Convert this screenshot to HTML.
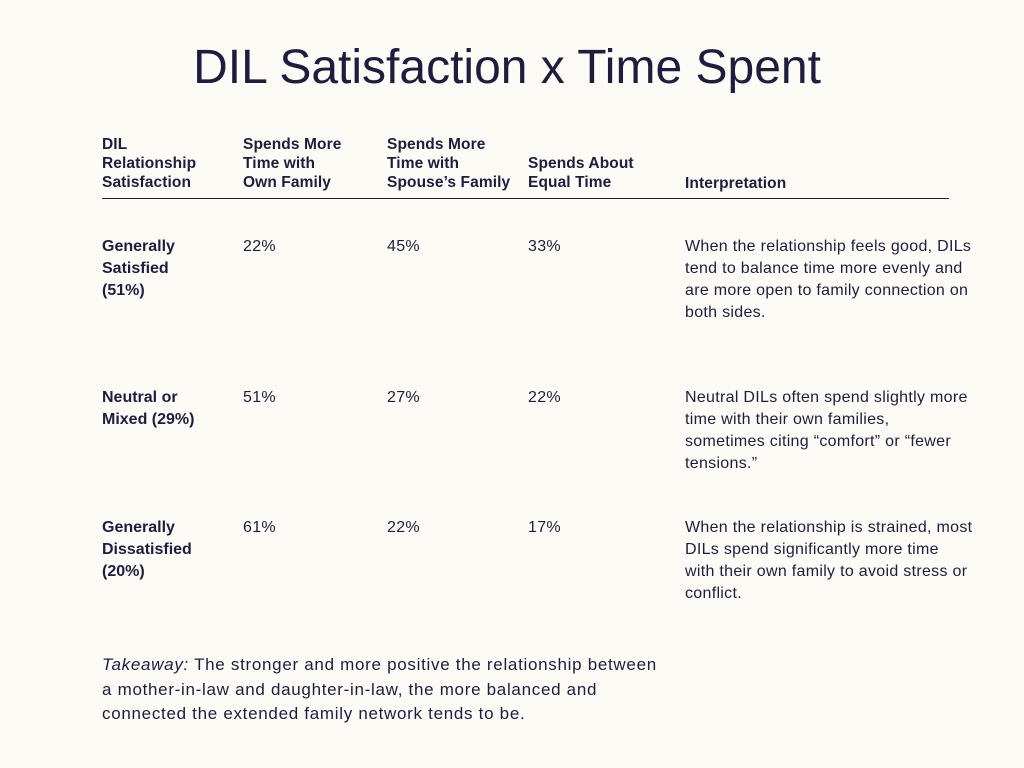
<!DOCTYPE html>
<html><head><meta charset="utf-8"><style>
html,body{margin:0;padding:0;}
body{width:1024px;height:768px;background:#fcfbf5;position:relative;overflow:hidden;font-family:"Liberation Sans",sans-serif;color:#1f1d3d;}
.a{position:absolute;}
h1{position:absolute;left:0;width:1014px;top:38px;margin:0;text-align:center;font-weight:normal;font-size:48px;line-height:60px;color:#1f1d3d;}
.h{font-weight:bold;font-size:15.5px;line-height:19px;letter-spacing:0.1px;}
.c{font-size:16px;line-height:22px;letter-spacing:0.3px;}
.b{font-weight:bold;}
.rule{position:absolute;left:102px;top:198px;width:847px;height:1px;background:#1f1d3d;}
</style></head><body>
<h1>DIL Satisfaction x Time Spent</h1>
<div class="a h" style="left:102px;top:135px;width:130px">DIL<br>Relationship<br>Satisfaction</div>
<div class="a h" style="left:243px;top:135px;width:140px">Spends More<br>Time with<br>Own Family</div>
<div class="a h" style="left:387px;top:135px;width:140px">Spends More<br>Time with<br>Spouse’s Family</div>
<div class="a h" style="left:528px;top:154px;width:140px">Spends About<br>Equal Time</div>
<div class="a h" style="left:685px;top:174px;width:200px">Interpretation</div>
<div class="rule"></div>

<div class="a c b" style="left:102px;top:236px;width:130px;letter-spacing:0">Generally<br>Satisfied<br>(51%)</div>
<div class="a c" style="left:243px;top:236px">22%</div>
<div class="a c" style="left:387px;top:236px">45%</div>
<div class="a c" style="left:528px;top:236px">33%</div>
<div class="a c" style="left:685px;top:236px;width:330px">When the relationship feels good, DILs<br>tend to balance time more evenly and<br>are more open to family connection on<br>both sides.</div>

<div class="a c b" style="left:102px;top:387px;width:130px;letter-spacing:0">Neutral or<br>Mixed (29%)</div>
<div class="a c" style="left:243px;top:387px">51%</div>
<div class="a c" style="left:387px;top:387px">27%</div>
<div class="a c" style="left:528px;top:387px">22%</div>
<div class="a c" style="left:685px;top:387px;width:330px">Neutral DILs often spend slightly more<br>time with their own families,<br>sometimes citing “comfort” or “fewer<br>tensions.”</div>

<div class="a c b" style="left:102px;top:517px;width:130px;letter-spacing:0">Generally<br>Dissatisfied<br>(20%)</div>
<div class="a c" style="left:243px;top:517px">61%</div>
<div class="a c" style="left:387px;top:517px">22%</div>
<div class="a c" style="left:528px;top:517px">17%</div>
<div class="a c" style="left:685px;top:517px;width:330px">When the relationship is strained, most<br>DILs spend significantly more time<br>with their own family to avoid stress or<br>conflict.</div>

<div class="a" style="left:102px;top:653px;width:700px;font-size:17px;line-height:24.5px;letter-spacing:0.7px"><i>Takeaway:</i> The stronger and more positive the relationship between<br>a mother-in-law and daughter-in-law, the more balanced and<br>connected the extended family network tends to be.</div>
</body></html>
